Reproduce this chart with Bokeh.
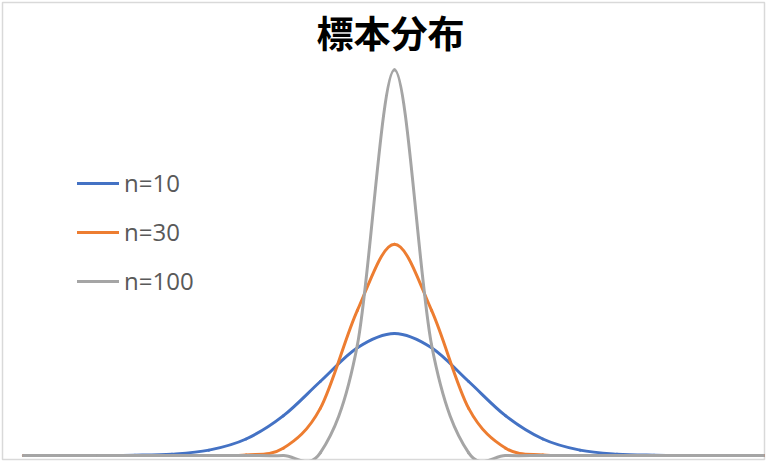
from bokeh.plotting import figure
from bokeh.models import Range1d, Label, ColumnDataSource
from bokeh.embed import file_html
from bokeh.resources import INLINE

# ---- data (x step 0.5) ----
x_vals = [-5.0, -4.5, -4.0, -3.5, -3.0, -2.5, -2.0, -1.5, -1.0, -0.5, 0.0,
          0.5, 1.0, 1.5, 2.0, 2.5, 3.0, 3.5, 4.0, 4.5, 5.0]
n10 = [0.0000, 0.0000, 0.0001, 0.0009, 0.0044, 0.0175, 0.0540, 0.1295, 0.2420, 0.3521, 0.3989,
       0.3521, 0.2420, 0.1295, 0.0540, 0.0175, 0.0044, 0.0009, 0.0001, 0.0000, 0.0000]
n30 = [0.0000, 0.0000, 0.0000, 0.0000, 0.0000, 0.0001, 0.0017, 0.0236, 0.1542, 0.4749, 0.6910,
       0.4749, 0.1542, 0.0236, 0.0017, 0.0001, 0.0000, 0.0000, 0.0000, 0.0000, 0.0000]
n100 = [0.0000, 0.0000, 0.0000, 0.0000, 0.0000, 0.0000, 0.0000, 0.0000, 0.0085, 0.3614, 1.2616,
        0.3614, 0.0085, 0.0000, 0.0000, 0.0000, 0.0000, 0.0000, 0.0000, 0.0000, 0.0000]
series_names = ["n=10", "n=30", "n=100"]
series_colors = ["#4472C4", "#ED7D31", "#A5A5A5"]
title_text = "標本分布"


def smooth_segments(xs, ys):
    """Excel-like smoothed line: Catmull-Rom converted to cubic Bezier segments."""
    n = len(xs)
    d = dict(x0=[], y0=[], x1=[], y1=[], cx0=[], cy0=[], cx1=[], cy1=[])
    for i in range(n - 1):
        im1 = max(i - 1, 0)
        ip2 = min(i + 2, n - 1)
        d["x0"].append(xs[i]); d["y0"].append(ys[i])
        d["x1"].append(xs[i + 1]); d["y1"].append(ys[i + 1])
        d["cx0"].append(xs[i] + (xs[i + 1] - xs[im1]) / 6.0)
        d["cy0"].append(ys[i] + (ys[i + 1] - ys[im1]) / 6.0)
        d["cx1"].append(xs[i + 1] - (xs[ip2] - xs[i]) / 6.0)
        d["cy1"].append(ys[i + 1] - (ys[ip2] - ys[i]) / 6.0)
    return ColumnDataSource(d)


p = figure(width=768, height=461,
           x_range=Range1d(-5.283, 4.987), y_range=Range1d(-0.01308, 1.4818),
           output_backend="svg", toolbar_location=None, title=None,
           x_axis_location=None, y_axis_location=None,
           min_border_left=2, min_border_top=2, min_border_right=4, min_border_bottom=2)
p.grid.visible = False
p.outline_line_color = "#D9D9D9"
p.outline_line_width = 1.5
p.background_fill_color = "white"
p.border_fill_color = "white"

for name, ys, col in zip(series_names, [n10, n30, n100], series_colors):
    src = smooth_segments(x_vals, ys)
    p.bezier(x0="x0", y0="y0", x1="x1", y1="y1", cx0="cx0", cy0="cy0",
             cx1="cx1", cy1="cy1", source=src, line_color=col, line_width=3,
             line_cap="round", legend_label=name)

leg = p.legend[0]
leg.location = (75, 162)
leg.orientation = "vertical"
leg.border_line_alpha = 0
leg.background_fill_alpha = 0
leg.padding = 0
leg.margin = 0
leg.glyph_width = 42
leg.glyph_height = 24
leg.label_height = 24
leg.spacing = 16
leg.label_standoff = 5
leg.label_text_font = "Open Sans"
leg.label_text_font_size = "24px"
leg.label_text_color = "#595959"

p.add_layout(Label(x=388, y=428, x_units="screen", y_units="screen",
                   text=title_text, text_font="Noto Sans CJK JP",
                   text_font_size="37px", text_font_style="bold",
                   text_align="center", text_baseline="middle",
                   text_color="black"))

open("out.html", "w").write(file_html(p, INLINE))
